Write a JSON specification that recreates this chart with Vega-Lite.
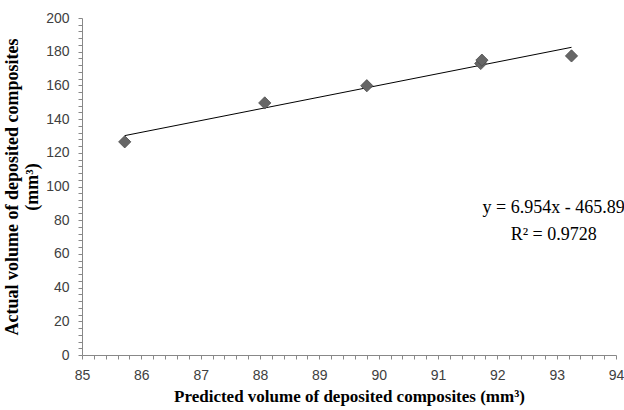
{
  "$schema": "https://vega.github.io/schema/vega-lite/v6.json",
  "autosize": "none",
  "width": 534,
  "height": 337,
  "padding": {"left": 82, "top": 18, "right": 8, "bottom": 55},
  "background": "white",
  "config": {"view": {"stroke": null}},
  "datasets": {
    "pts": [
      {"pred": 85.72, "actual": 126.5},
      {"pred": 88.08, "actual": 149.6},
      {"pred": 89.8, "actual": 159.8},
      {"pred": 91.72, "actual": 173},
      {"pred": 91.74, "actual": 175},
      {"pred": 93.25, "actual": 177.5}
    ],
    "trend": [
      {"pred": 85.72, "actual": 130.2},
      {"pred": 93.25, "actual": 182.6}
    ],
    "eq": [
      {"pred": 92.95, "actual": 87, "label": ["y = 6.954x - 465.89", "R² = 0.9728"]}
    ]
  },
  "layer": [
    {
      "data": {"name": "trend"},
      "mark": {"type": "line", "color": "#000000", "strokeWidth": 1},
      "encoding": {
        "x": {"field": "pred", "type": "quantitative"},
        "y": {"field": "actual", "type": "quantitative"}
      }
    },
    {
      "data": {"name": "pts"},
      "mark": {"type": "point", "shape": "diamond", "filled": true, "size": 150, "color": "#666666", "stroke": "#4a4a4a", "strokeWidth": 0.8, "opacity": 1},
      "encoding": {
        "x": {
          "field": "pred", "type": "quantitative",
          "scale": {"domain": [85, 94], "nice": false, "zero": false},
          "axis": {
            "title": "Predicted volume of deposited composites (mm³)",
            "titleFont": "Liberation Serif", "titleFontSize": 17, "titleFontWeight": "bold", "titleColor": "#000000", "titlePadding": 6,
            "tickCount": 100,
            "values": [85,85.2,85.4,85.6,85.8,86,86.2,86.4,86.6,86.8,87,87.2,87.4,87.6,87.8,88,88.2,88.4,88.6,88.8,89,89.2,89.4,89.6,89.8,90,90.2,90.4,90.6,90.8,91,91.2,91.4,91.6,91.8,92,92.2,92.4,92.6,92.8,93,93.2,93.4,93.6,93.8,94],
            "labelExpr": "abs(datum.value - round(datum.value)) < 0.01 ? format(datum.value, 'd') : ''",
            "labelOverlap": false, "labelFlush": false,
            "labelFont": "Liberation Sans", "labelFontSize": 14, "labelColor": "#404040", "labelPadding": 9,
            "grid": false, "domainColor": "#888888", "tickColor": "#888888", "tickSize": 4
          }
        },
        "y": {
          "field": "actual", "type": "quantitative",
          "scale": {"domain": [0, 200], "nice": false},
          "axis": {
            "title": ["Actual volume of deposited composites", "(mm³)"],
            "titleFont": "Liberation Serif", "titleFontSize": 18, "titleFontWeight": "bold", "titleColor": "#000000", "titlePadding": 4, "titleLineHeight": 20,
            "tickCount": 100,
            "values": [0,4,8,12,16,20,24,28,32,36,40,44,48,52,56,60,64,68,72,76,80,84,88,92,96,100,104,108,112,116,120,124,128,132,136,140,144,148,152,156,160,164,168,172,176,180,184,188,192,196,200],
            "labelExpr": "datum.value % 20 == 0 ? format(datum.value, 'd') : ''",
            "labelOverlap": false, "labelFlush": false,
            "labelFont": "Liberation Sans", "labelFontSize": 14, "labelColor": "#404040", "labelPadding": 9,
            "grid": false, "domainColor": "#888888", "tickColor": "#888888", "tickSize": 4
          }
        }
      }
    },
    {
      "data": {"name": "eq"},
      "mark": {"type": "text", "font": "Liberation Serif", "fontSize": 18, "color": "#000000", "align": "center", "baseline": "middle", "lineHeight": 27},
      "encoding": {
        "x": {"field": "pred", "type": "quantitative"},
        "y": {"field": "actual", "type": "quantitative"},
        "text": {"field": "label"}
      }
    }
  ]
}
